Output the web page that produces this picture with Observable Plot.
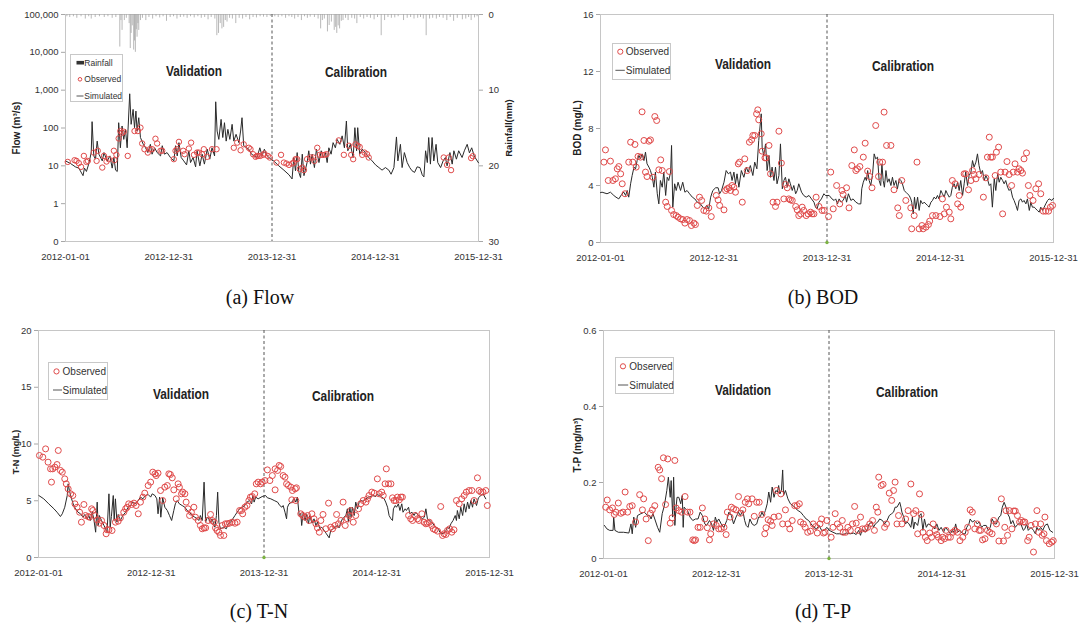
<!DOCTYPE html>
<html><head><meta charset="utf-8">
<script src="https://cdn.jsdelivr.net/npm/d3@7"></script>
<script src="https://cdn.jsdelivr.net/npm/@observablehq/plot@0.6"></script>
<style>
body{margin:0;background:#fff;}
#root{position:relative;width:1079px;height:624px;overflow:hidden;background:#fff;font-family:"Liberation Sans",Arial,sans-serif;color:#333;}
.note{position:absolute;transform:translate(-50%,-50%) scaleX(0.85);font-weight:bold;font-size:14px;color:#222;white-space:nowrap;}
.ytitle{position:absolute;transform:translate(-50%,-50%) rotate(-90deg);font-weight:bold;color:#222;white-space:nowrap;}
.cap{position:absolute;transform:translate(-50%,-50%);font-family:"Liberation Serif","Times New Roman",serif;font-size:20px;color:#111;white-space:nowrap;}
</style></head><body><div id="root"></div><script>
// ---------------- DATA ----------------
const xTickLabels = ["2012-01-01","2012-12-31","2013-12-31","2014-12-31","2015-12-31"];
const splitDate = "2013-12-31";
const periodLabels = ["Validation","Calibration"];
const captions = ["(a) Flow","(b) BOD","(c) T-N","(d) T-P"];
const flowTicks = [0.1,1,10,100,1000,10000,100000];
const flowTickLabels = ["0","1","10","100","1,000","10,000","100,000"];
const rainTicks = [0,10,20,30];
const bodTicks = [0,4,8,12,16];
const tnTicks = [0,5,10,15,20];
const tpTicks = [0,0.2,0.4,0.6];
// [day since 2012-01-01, value]
const flowSim = [[0,13.5],[18,11.5],[35,9.4],[47,8.7],[62,5.5],[67,8.7],[74,7.1],[82,11.1],[91,22.4],[94,147],[100,18.3],[106,15],[112,45],[118,20.3],[130,13.5],[136,22.4],[147,13.5],[157,18.3],[165,8.7],[171,16.6],[177,7.7],[183,7.1],[188,138],[194,30],[200,113],[206,50],[212,92],[218,30],[227,802],[232,125],[239,310],[244,102],[249,280],[253,83],[259,187],[265,56],[275,37],[283,30],[291,22.4],[300,37],[306,20.3],[315,30],[324,22.4],[336,18.3],[342,34],[350,20.3],[359,22.4],[371,16.6],[383,13.5],[389,34],[395,18.3],[401,41],[409,16.6],[418,13.5],[428,10.6],[436,25],[442,12.2],[451,16.6],[460,9.4],[465,25],[475,10],[483,20.3],[491,11.1],[501,27.5],[510,15],[518,30],[527,18.3],[531,493],[536,83],[542,50],[550,169],[556,56],[562,138],[568,45],[574,92],[581,50],[589,125],[595,45],[603,68],[613,41],[619,83],[624,187],[630,34],[640,30],[648,27.5],[656,21],[666,18.3],[677,16.6],[687,30],[695,18.3],[703,27.5],[713,18.3],[730,14.1],[736,13.5],[754,10],[772,7.7],[790,5.8],[801,4.5],[807,16.6],[813,7.4],[819,22.4],[825,6.7],[831,4.9],[837,20.3],[843,5.5],[854,12.2],[860,25],[866,11.1],[872,20.3],[880,9.0],[887,27.5],[896,12.2],[904,25],[911,16.6],[919,22.4],[925,12.2],[931,30],[939,20.3],[946,41],[954,30],[960,50],[970,37],[978,62],[986,30],[993,153],[998,25],[1007,37],[1017,16.6],[1023,102],[1029,25],[1033,102],[1040,20.3],[1049,27.5],[1060,22.4],[1072,16.6],[1084,13.5],[1096,10.6],[1108,9.0],[1119,7.7],[1131,9.0],[1143,7.7],[1151,6.0],[1161,9.0],[1170,58],[1175,13.5],[1184,37],[1190,9.0],[1198,22.4],[1208,12.2],[1217,9.0],[1225,7.4],[1234,6.7],[1243,9.4],[1253,9.0],[1261,5.8],[1267,5.1],[1273,25],[1279,12.2],[1284,56],[1290,11.1],[1296,56],[1302,13.5],[1310,37],[1316,12.2],[1326,9.0],[1335,13.5],[1343,16.6],[1349,10],[1359,22.4],[1367,11.1],[1373,25],[1382,15],[1390,25],[1402,16.6],[1410,25],[1420,37],[1428,22],[1436,30],[1445,18],[1460,12]];
const flowObs = [[8,12.7],[32,14.1],[39,13.5],[47,11.8],[55,9.4],[65,18.3],[74,12.7],[79,13.5],[100,22.4],[110,13.5],[114,25],[130,9],[136,18.3],[145,13],[153,15],[171,25],[173,14.1],[180,19.5],[188,53],[194,83],[200,75],[206,80],[220,18.3],[244,83],[256,83],[265,102],[271,39],[279,27.5],[291,22.4],[298,27.5],[306,27.5],[318,52],[324,39],[336,25],[342,25],[383,15],[389,25],[395,27.5],[401,43],[416,25],[421,20.3],[436,28.6],[444,41],[454,19.5],[465,22.4],[471,22.4],[483,20.3],[489,27.5],[501,17.3],[518,27.5],[534,27.5],[595,30],[607,41],[619,25.8],[630,37],[648,30],[654,27.5],[663,20.3],[672,17.3],[677,18.3],[683,18.3],[689,18.3],[699,19.5],[703,21],[715,18.3],[722,16.6],[746,12.2],[762,19.5],[772,12.2],[781,11.5],[790,10.6],[801,11.5],[807,12.2],[813,15],[819,15],[828,8.2],[837,9],[843,7.7],[854,15],[866,16.6],[876,16.6],[880,13.5],[890,30],[899,19.5],[907,19.5],[916,19.5],[923,20.3],[966,47],[984,19.5],[1002,34],[1010,19.5],[1017,15],[1025,37],[1033,34],[1040,31.6],[1049,19.5],[1057,22.4],[1066,20.3],[1072,16.6],[1337,16.6],[1349,10.6],[1355,16.6],[1363,7.7],[1434,16],[1440,18]];
const rainfall = [[5,0.3],[15,0.4],[28,0.3],[40,0.5],[55,0.3],[70,0.6],[82,0.3],[91,0.6],[105,0.4],[120,0.3],[137,0.4],[150,0.3],[165,0.5],[178,0.4],[192,4.3],[196,0.8],[200,2.1],[208,0.8],[215,0.5],[225,1.2],[229,4.5],[232,2.5],[236,1.5],[241,4.7],[244,3.5],[247,5.0],[250,2.0],[253,3.0],[256,1.2],[259,2.1],[265,0.8],[272,0.5],[284,0.8],[295,0.4],[308,0.6],[320,0.3],[333,0.45],[345,0.3],[357,0.9],[370,0.4],[382,0.3],[394,0.6],[406,0.4],[418,0.35],[430,0.5],[442,0.3],[455,0.45],[468,0.3],[480,0.5],[492,0.4],[504,0.7],[515,0.4],[528,0.6],[535,2.8],[541,2.5],[547,1.2],[553,1.9],[559,1.7],[565,0.8],[571,1.0],[580,0.5],[590,0.6],[602,1.2],[614,0.5],[626,0.6],[638,0.4],[651,0.7],[663,0.4],[675,0.45],[688,0.3],[700,0.35],[712,0.4],[724,0.26],[740,0.3],[752,0.4],[765,0.3],[778,0.5],[790,0.3],[800,0.4],[810,0.6],[822,0.4],[834,0.8],[845,0.3],[855,0.5],[865,0.35],[880,0.4],[893,0.6],[902,1.9],[908,0.8],[915,0.6],[926,2.3],[932,1.45],[940,1.0],[950,2.1],[955,1.7],[959,2.5],[964,1.5],[969,1.9],[975,0.9],[981,0.8],[990,0.5],[999,0.8],[1012,0.5],[1022,0.6],[1030,1.2],[1042,0.4],[1054,0.6],[1066,0.4],[1078,0.5],[1091,0.7],[1103,0.4],[1116,2.8],[1128,0.8],[1140,0.4],[1152,0.5],[1164,0.45],[1176,0.3],[1195,0.8],[1208,0.5],[1220,0.4],[1232,0.6],[1245,0.5],[1255,0.4],[1265,0.6],[1275,2.8],[1287,0.6],[1298,0.5],[1311,0.6],[1322,0.4],[1335,0.5],[1348,0.8],[1360,0.4],[1372,0.9],[1385,0.5],[1403,0.7],[1415,0.6],[1425,0.4],[1434,0.8],[1446,0.45],[1455,0.3]];
const bodSim = [[0,3.5],[5,3.53],[21,3.42],[32,3.53],[43,3.30],[50,3.18],[59,3.06],[68,3.37],[75,3.53],[81,3.30],[86,3.65],[91,3.18],[97,4.12],[102,4.70],[108,5.29],[113,5.17],[118,5.75],[124,6.11],[129,5.87],[134,6.22],[140,5.75],[145,6.34],[150,5.52],[156,5.29],[161,5.05],[167,4.58],[172,3.88],[177,4.94],[183,3.42],[188,2.71],[193,4.35],[199,3.88],[204,4.94],[210,3.30],[215,4.58],[220,4.35],[226,4.94],[229,6.81],[233,2.48],[239,4.12],[244,3.65],[250,4.23],[258,3.65],[265,4.23],[272,3.53],[279,3.65],[287,3.42],[296,3.18],[304,3.06],[312,2.83],[322,2.71],[330,2.48],[336,2.36],[342,2.60],[349,2.36],[355,3.18],[362,3.65],[371,3.84],[379,3.84],[384,3.42],[390,3.65],[398,4.23],[405,5.05],[412,4.82],[419,4.94],[424,4.35],[430,4.94],[435,4.12],[440,4.82],[446,3.88],[454,5.05],[462,4.58],[470,5.29],[476,4.94],[483,5.40],[491,4.70],[497,5.64],[504,5.17],[510,7.16],[518,9.03],[521,6.69],[526,6.11],[532,6.92],[537,5.05],[543,6.11],[548,4.58],[553,5.29],[559,4.35],[564,5.29],[569,4.12],[575,4.70],[580,6.92],[586,3.77],[591,4.35],[596,4.58],[602,3.88],[607,4.47],[612,4.12],[618,3.65],[623,4.0],[629,3.42],[634,3.65],[639,4.12],[648,3.53],[655,3.30],[663,3.18],[672,3.30],[680,3.06],[688,2.83],[693,2.48],[698,2.36],[704,2.83],[712,3.06],[720,3.42],[725,3.30],[737,3.30],[746,3.06],[753,2.95],[758,3.06],[764,2.71],[769,3.06],[775,2.83],[782,2.95],[789,3.30],[793,2.83],[799,3.42],[807,2.95],[814,3.06],[823,2.83],[832,2.71],[839,2.71],[842,3.77],[847,4.23],[853,4.58],[857,4.35],[861,5.05],[866,4.35],[871,4.0],[877,4.82],[882,6.22],[887,5.87],[893,5.99],[898,4.35],[903,4.0],[907,5.52],[911,4.35],[915,3.88],[920,5.05],[925,4.23],[930,4.47],[936,4.0],[941,4.58],[946,4.0],[952,4.35],[957,3.77],[963,4.47],[968,4.35],[973,4.12],[979,3.65],[984,3.53],[989,3.42],[995,3.30],[1000,3.06],[1003,2.83],[1008,2.01],[1012,3.18],[1016,2.36],[1022,3.18],[1027,2.25],[1032,2.95],[1038,2.71],[1043,2.83],[1049,2.71],[1054,2.60],[1059,2.48],[1065,2.83],[1070,2.95],[1075,3.18],[1081,3.06],[1086,3.30],[1091,3.06],[1097,3.65],[1102,3.42],[1108,3.18],[1113,3.65],[1118,3.42],[1124,3.18],[1129,3.30],[1134,3.88],[1140,4.12],[1145,3.77],[1151,4.23],[1156,3.65],[1161,4.35],[1167,3.30],[1172,4.12],[1177,4.94],[1183,4.0],[1188,4.70],[1194,4.94],[1199,5.75],[1204,5.29],[1210,5.64],[1215,6.22],[1220,5.40],[1226,4.82],[1231,5.05],[1237,4.35],[1242,4.70],[1247,4.47],[1253,4.0],[1258,4.12],[1263,2.48],[1269,4.47],[1274,3.65],[1280,4.82],[1285,4.23],[1290,4.58],[1296,4.35],[1301,4.12],[1306,4.35],[1312,3.88],[1317,3.65],[1322,3.77],[1328,3.18],[1333,2.95],[1339,2.60],[1344,2.25],[1349,2.95],[1355,3.06],[1360,2.83],[1365,2.95],[1371,2.71],[1376,3.06],[1382,2.25],[1387,2.83],[1392,2.48],[1398,2.48],[1403,2.36],[1408,2.25],[1414,2.13],[1419,2.48],[1425,2.25],[1430,2.48],[1435,2.71],[1441,2.95],[1446,3.06],[1455,2.95],[1460,3.1]];
const bodObs = [[11,5.64],[16,6.50],[25,4.35],[32,5.71],[40,4.35],[48,4.47],[54,5.17],[59,5.33],[65,4.82],[70,4.12],[79,3.42],[91,5.64],[97,7.04],[104,5.64],[111,6.88],[115,5.29],[121,6.04],[129,5.99],[134,9.17],[140,7.16],[145,4.94],[150,4.63],[156,7.11],[161,7.20],[169,4.58],[175,8.84],[181,8.56],[188,5.10],[194,5.80],[199,5.05],[210,2.83],[215,2.53],[222,4.98],[229,2.25],[236,1.96],[244,1.89],[250,1.78],[258,1.66],[265,1.61],[272,1.36],[279,1.61],[287,1.54],[293,1.19],[301,1.36],[306,1.26],[312,2.60],[319,3.18],[326,2.95],[333,2.25],[341,2.20],[349,2.43],[357,1.82],[373,3.30],[379,2.99],[384,2.60],[398,2.29],[403,3.65],[408,3.77],[414,3.84],[419,3.65],[424,4.0],[430,3.88],[435,3.53],[444,5.52],[448,5.64],[457,2.83],[465,5.87],[473,5.05],[480,7.04],[487,7.20],[491,7.51],[497,7.51],[503,9.03],[507,9.31],[510,8.61],[518,7.63],[521,6.41],[530,5.94],[534,5.94],[543,6.81],[548,4.82],[556,2.83],[564,2.53],[569,2.83],[575,7.81],[583,5.57],[591,3.06],[596,4.07],[602,3.84],[607,3.06],[612,2.99],[618,2.95],[629,2.53],[634,2.29],[639,1.89],[645,2.01],[650,2.48],[655,2.25],[663,1.89],[669,2.01],[677,2.13],[682,2.01],[688,2.01],[695,3.18],[704,2.53],[714,2.25],[721,2.25],[735,1.82],[742,4.94],[750,2.36],[761,4.0],[771,2.71],[778,3.65],[782,3.37],[793,3.84],[801,2.43],[810,5.40],[818,6.50],[823,5.05],[828,5.17],[836,5.33],[847,5.99],[853,6.97],[861,5.01],[868,4.63],[875,3.84],[887,8.21],[896,4.63],[900,5.64],[909,5.64],[914,9.15],[922,6.81],[936,6.81],[946,3.70],[958,2.43],[963,1.89],[971,4.35],[984,2.95],[1000,2.43],[1003,0.96],[1011,1.89],[1020,5.64],[1027,0.96],[1036,1.19],[1040,0.96],[1049,1.08],[1057,1.26],[1061,1.50],[1070,1.89],[1081,1.89],[1094,1.82],[1102,3.06],[1108,2.01],[1115,2.48],[1124,2.13],[1129,1.66],[1134,4.35],[1143,4.12],[1151,2.71],[1156,3.30],[1161,2.48],[1172,4.82],[1177,4.82],[1186,3.70],[1194,4.35],[1199,5.05],[1204,4.77],[1210,4.47],[1220,4.77],[1234,3.18],[1242,4.54],[1247,5.99],[1253,7.39],[1258,5.99],[1263,5.99],[1272,4.70],[1276,6.34],[1283,6.69],[1290,4.94],[1296,2.01],[1304,4.94],[1310,5.68],[1317,4.77],[1325,4.0],[1330,4.94],[1336,5.52],[1344,4.94],[1349,5.17],[1355,5.05],[1360,4.87],[1365,5.87],[1373,6.29],[1379,4.0],[1384,3.30],[1394,2.95],[1403,3.77],[1412,4.12],[1419,3.42],[1427,2.20],[1435,2.20],[1444,2.20],[1450,2.48],[1457,2.6]];
const tnSim = [[1,5.46],[17,5.17],[33,4.73],[50,4.29],[60,3.99],[71,3.61],[77,3.85],[85,4.43],[93,5.46],[96,6.49],[100,5.90],[107,5.17],[114,4.58],[120,4.29],[128,3.99],[136,3.85],[144,3.55],[150,3.79],[158,3.41],[163,3.70],[168,3.26],[174,3.99],[179,3.41],[185,2.23],[190,4.88],[193,2.82],[197,3.70],[204,3.26],[212,2.82],[217,2.53],[222,2.23],[228,5.61],[232,2.67],[236,3.61],[242,5.46],[245,3.26],[249,5.17],[254,3.11],[258,3.79],[265,3.26],[273,3.70],[282,3.99],[290,4.43],[298,4.58],[305,4.88],[314,4.73],[323,5.02],[330,5.32],[338,5.17],[346,5.46],[355,5.55],[363,5.32],[368,5.61],[377,5.46],[383,5.17],[387,3.85],[392,5.32],[396,3.55],[402,5.26],[409,4.43],[417,4.14],[424,3.70],[431,3.26],[438,4.14],[443,4.73],[449,5.02],[456,4.73],[465,4.58],[474,4.43],[481,4.14],[489,3.99],[497,3.70],[506,3.55],[514,3.41],[519,3.26],[524,3.70],[530,3.26],[536,6.64],[541,3.11],[546,3.55],[551,3.41],[557,3.11],[562,3.41],[571,2.67],[576,3.70],[580,5.76],[584,3.11],[589,2.53],[595,2.61],[600,2.67],[608,2.53],[614,2.97],[622,3.11],[629,3.41],[636,3.70],[643,3.99],[651,4.29],[659,4.43],[668,4.58],[675,4.88],[683,5.02],[690,4.73],[694,5.46],[698,4.88],[703,5.32],[711,5.17],[724,5.37],[735,5.46],[741,5.26],[752,5.17],[763,5.02],[774,4.88],[781,4.58],[788,4.43],[792,4.58],[798,3.99],[803,3.41],[806,4.43],[811,4.73],[820,4.88],[828,5.17],[833,4.88],[838,5.32],[844,3.70],[849,3.91],[852,2.82],[857,3.99],[863,3.26],[868,3.85],[874,2.97],[878,3.70],[885,3.03],[892,3.41],[898,2.82],[903,3.11],[911,2.53],[917,2.67],[925,2.38],[932,2.09],[941,1.73],[946,2.38],[954,2.53],[960,2.67],[968,2.82],[973,2.61],[979,3.11],[984,3.41],[989,3.55],[995,3.70],[1000,4.29],[1003,3.11],[1008,4.43],[1012,3.55],[1016,4.43],[1022,3.70],[1027,4.88],[1033,4.29],[1038,4.88],[1043,5.02],[1051,4.96],[1060,5.17],[1068,5.32],[1076,5.37],[1083,5.46],[1092,5.37],[1097,5.55],[1103,5.46],[1111,5.32],[1119,5.17],[1124,4.88],[1130,4.43],[1135,3.70],[1141,3.41],[1146,3.26],[1149,4.29],[1155,4.58],[1159,4.43],[1165,4.73],[1170,4.14],[1176,4.73],[1180,3.99],[1187,4.29],[1191,4.14],[1198,4.43],[1202,3.85],[1209,3.99],[1216,3.70],[1221,3.99],[1230,3.70],[1238,3.55],[1243,3.41],[1249,3.55],[1254,4.29],[1259,3.41],[1267,3.26],[1273,3.11],[1281,2.82],[1286,2.67],[1295,2.53],[1299,2.23],[1306,2.09],[1313,2.14],[1319,2.38],[1324,2.67],[1329,2.53],[1335,2.97],[1342,3.26],[1349,3.70],[1353,3.26],[1356,4.14],[1362,3.41],[1367,4.43],[1373,3.70],[1378,4.73],[1383,3.99],[1389,4.88],[1394,4.29],[1400,5.02],[1405,4.43],[1410,5.17],[1418,4.58],[1424,5.26],[1432,5.46],[1439,5.61],[1448,5.17]];
const tnObs = [[3,8.99],[14,8.84],[23,9.57],[31,8.40],[39,7.81],[42,6.64],[46,7.81],[53,7.96],[60,8.19],[64,9.43],[71,7.67],[77,7.52],[85,6.93],[90,6.49],[96,6.05],[104,5.61],[111,5.46],[118,4.73],[125,4.43],[133,3.99],[139,3.11],[147,4.67],[152,3.70],[161,3.61],[165,3.55],[172,4.29],[176,4.14],[182,3.70],[190,3.32],[197,3.02],[204,3.26],[212,2.82],[219,2.09],[222,2.44],[228,2.44],[238,2.38],[249,3.11],[258,3.20],[265,3.49],[276,3.99],[282,4.29],[287,4.43],[292,4.73],[301,4.67],[309,4.79],[316,4.58],[323,3.85],[330,4.88],[338,5.32],[344,5.67],[355,6.34],[363,6.64],[370,7.52],[377,7.37],[381,7.22],[387,7.43],[395,5.90],[402,5.02],[409,6.20],[417,6.34],[422,7.37],[427,7.31],[433,7.02],[438,5.96],[446,5.17],[452,6.49],[456,6.20],[463,5.61],[467,5.76],[474,5.61],[478,4.88],[484,4.29],[489,3.70],[495,3.99],[503,4.43],[508,3.55],[517,3.26],[524,2.82],[530,2.53],[536,2.61],[541,2.61],[549,3.26],[557,3.79],[562,3.26],[569,3.11],[573,2.61],[578,2.38],[584,2.23],[589,1.94],[595,2.82],[600,1.94],[605,2.97],[611,2.97],[618,3.02],[627,3.11],[636,3.02],[643,3.11],[651,4.14],[657,4.14],[661,3.85],[668,4.43],[675,4.58],[681,5.02],[686,5.32],[692,5.37],[700,5.61],[705,6.49],[711,6.64],[719,6.49],[724,6.64],[733,6.78],[741,7.72],[749,6.78],[757,7.22],[766,7.81],[766,5.96],[774,7.67],[779,8.11],[784,8.02],[792,7.22],[798,7.08],[803,6.49],[809,6.34],[817,6.20],[820,5.08],[822,5.90],[831,6.05],[833,5.02],[835,6.14],[849,3.85],[855,3.70],[863,3.55],[871,3.70],[876,3.26],[885,3.85],[892,3.41],[898,2.97],[903,2.61],[909,2.23],[914,3.26],[921,3.79],[930,2.53],[939,4.79],[946,2.67],[952,2.53],[960,2.82],[965,3.79],[971,2.97],[979,3.26],[986,4.88],[993,2.82],[1000,3.41],[1006,3.70],[1011,4.14],[1019,3.11],[1027,3.70],[1036,4.29],[1043,4.73],[1051,5.02],[1060,4.88],[1065,5.17],[1070,5.46],[1079,5.76],[1087,5.67],[1097,6.93],[1103,5.61],[1111,5.76],[1116,5.46],[1122,6.49],[1126,7.81],[1133,6.49],[1141,6.49],[1146,5.26],[1151,5.02],[1157,5.02],[1162,5.32],[1168,5.08],[1173,5.32],[1178,5.32],[1198,3.70],[1205,3.41],[1211,3.26],[1219,3.70],[1227,3.41],[1232,3.26],[1241,3.85],[1248,3.11],[1254,2.97],[1259,3.02],[1265,3.11],[1273,2.82],[1278,2.53],[1284,2.44],[1292,2.32],[1302,4.49],[1308,1.94],[1313,2.09],[1319,2.03],[1324,2.38],[1331,2.53],[1338,2.23],[1345,2.44],[1353,5.02],[1362,4.73],[1370,5.17],[1378,5.46],[1385,5.76],[1394,5.90],[1403,5.90],[1410,5.02],[1421,7.02],[1426,5.90],[1432,5.76],[1439,5.76],[1448,5.90],[1453,4.58]];
const tpSim = [[3,0.087],[11,0.078],[20,0.074],[31,0.074],[33,0.109],[37,0.074],[48,0.069],[65,0.069],[82,0.067],[89,0.091],[93,0.065],[98,0.109],[104,0.082],[110,0.113],[121,0.118],[132,0.122],[143,0.113],[149,0.113],[154,0.104],[160,0.118],[166,0.104],[175,0.082],[182,0.069],[190,0.118],[197,0.139],[205,0.179],[210,0.214],[216,0.161],[219,0.205],[224,0.109],[227,0.214],[231,0.087],[235,0.135],[238,0.161],[244,0.161],[250,0.144],[255,0.166],[258,0.082],[261,0.135],[266,0.131],[272,0.126],[280,0.109],[289,0.100],[298,0.104],[306,0.104],[313,0.122],[320,0.113],[328,0.091],[334,0.087],[343,0.100],[350,0.091],[356,0.074],[362,0.109],[367,0.096],[373,0.104],[381,0.091],[390,0.082],[399,0.100],[406,0.122],[414,0.113],[421,0.091],[429,0.109],[437,0.122],[443,0.113],[451,0.126],[457,0.100],[462,0.087],[468,0.082],[474,0.104],[481,0.091],[488,0.087],[496,0.091],[502,0.109],[507,0.109],[513,0.122],[518,0.113],[524,0.126],[530,0.144],[535,0.175],[541,0.148],[546,0.188],[552,0.161],[558,0.179],[563,0.175],[567,0.192],[571,0.170],[576,0.179],[580,0.233],[583,0.166],[589,0.179],[597,0.157],[605,0.144],[614,0.139],[623,0.131],[630,0.126],[638,0.122],[647,0.113],[656,0.104],[664,0.100],[672,0.091],[681,0.082],[690,0.078],[698,0.087],[706,0.074],[715,0.074],[723,0.082],[731,0.074],[743,0.069],[754,0.065],[765,0.065],[776,0.063],[787,0.067],[799,0.065],[810,0.067],[818,0.063],[826,0.074],[832,0.061],[838,0.078],[847,0.069],[855,0.078],[860,0.091],[869,0.096],[874,0.082],[880,0.091],[888,0.096],[894,0.104],[903,0.100],[910,0.091],[918,0.100],[925,0.113],[933,0.118],[939,0.122],[944,0.135],[950,0.135],[959,0.148],[963,0.135],[966,0.122],[972,0.109],[978,0.091],[983,0.096],[989,0.091],[995,0.082],[1000,0.109],[1004,0.078],[1008,0.096],[1017,0.087],[1023,0.113],[1028,0.118],[1034,0.074],[1039,0.104],[1045,0.082],[1051,0.091],[1060,0.087],[1067,0.082],[1073,0.078],[1079,0.091],[1086,0.074],[1093,0.082],[1101,0.069],[1107,0.082],[1115,0.074],[1123,0.065],[1129,0.074],[1134,0.069],[1140,0.091],[1146,0.069],[1154,0.074],[1163,0.065],[1171,0.065],[1176,0.082],[1183,0.091],[1187,0.104],[1194,0.096],[1202,0.100],[1210,0.091],[1216,0.096],[1224,0.082],[1230,0.087],[1239,0.087],[1246,0.074],[1252,0.082],[1258,0.104],[1266,0.091],[1272,0.091],[1280,0.109],[1286,0.113],[1291,0.135],[1297,0.148],[1303,0.135],[1308,0.118],[1314,0.109],[1319,0.091],[1325,0.100],[1333,0.082],[1342,0.091],[1351,0.091],[1359,0.074],[1364,0.078],[1370,0.091],[1375,0.074],[1384,0.082],[1392,0.074],[1398,0.065],[1403,0.082],[1409,0.074],[1415,0.082],[1422,0.074],[1429,0.087],[1437,0.091],[1445,0.074],[1454,0.069]];
const tpObs = [[7,0.135],[12,0.154],[20,0.128],[29,0.133],[35,0.116],[40,0.122],[48,0.146],[56,0.119],[63,0.122],[70,0.175],[78,0.122],[85,0.137],[93,0.139],[104,0.096],[117,0.168],[126,0.128],[130,0.157],[138,0.104],[145,0.047],[152,0.119],[158,0.128],[166,0.139],[177,0.240],[182,0.233],[188,0.210],[194,0.265],[201,0.142],[208,0.262],[216,0.093],[222,0.107],[231,0.258],[235,0.133],[244,0.126],[253,0.122],[264,0.163],[272,0.122],[280,0.122],[289,0.049],[294,0.047],[298,0.049],[306,0.082],[313,0.082],[320,0.133],[328,0.104],[336,0.081],[343,0.049],[347,0.065],[356,0.091],[365,0.087],[373,0.078],[381,0.078],[390,0.082],[397,0.063],[401,0.122],[410,0.109],[414,0.135],[421,0.131],[429,0.128],[437,0.163],[443,0.119],[451,0.128],[459,0.148],[466,0.157],[470,0.144],[481,0.157],[488,0.111],[496,0.148],[504,0.148],[513,0.116],[522,0.065],[526,0.081],[533,0.102],[541,0.098],[546,0.087],[552,0.109],[560,0.179],[567,0.111],[574,0.170],[580,0.091],[589,0.128],[597,0.091],[603,0.078],[611,0.100],[619,0.139],[627,0.139],[634,0.144],[638,0.096],[647,0.091],[653,0.082],[661,0.069],[670,0.072],[679,0.091],[687,0.084],[692,0.067],[701,0.091],[706,0.104],[712,0.067],[717,0.069],[723,0.100],[737,0.056],[743,0.082],[750,0.118],[757,0.091],[765,0.082],[773,0.100],[776,0.069],[784,0.069],[791,0.082],[799,0.074],[806,0.091],[813,0.137],[818,0.093],[824,0.074],[832,0.109],[838,0.078],[847,0.078],[855,0.082],[862,0.091],[871,0.100],[877,0.074],[883,0.135],[888,0.122],[891,0.214],[899,0.192],[905,0.195],[910,0.082],[916,0.091],[925,0.172],[933,0.153],[939,0.179],[944,0.201],[950,0.091],[955,0.113],[966,0.091],[978,0.104],[986,0.126],[995,0.196],[1004,0.118],[1011,0.126],[1017,0.065],[1023,0.170],[1028,0.116],[1034,0.069],[1042,0.056],[1048,0.047],[1056,0.067],[1062,0.056],[1067,0.091],[1073,0.074],[1079,0.063],[1084,0.056],[1093,0.047],[1098,0.056],[1104,0.052],[1109,0.074],[1116,0.056],[1123,0.056],[1131,0.069],[1138,0.074],[1146,0.069],[1154,0.047],[1163,0.056],[1171,0.069],[1179,0.082],[1187,0.128],[1194,0.122],[1202,0.078],[1210,0.091],[1216,0.074],[1221,0.074],[1227,0.049],[1235,0.052],[1243,0.074],[1250,0.069],[1258,0.065],[1263,0.100],[1272,0.091],[1280,0.046],[1288,0.157],[1295,0.046],[1299,0.082],[1303,0.126],[1308,0.061],[1314,0.126],[1322,0.078],[1328,0.125],[1333,0.125],[1340,0.113],[1347,0.096],[1353,0.100],[1359,0.096],[1364,0.096],[1373,0.047],[1378,0.056],[1384,0.087],[1392,0.017],[1398,0.091],[1403,0.126],[1409,0.069],[1415,0.091],[1420,0.061],[1426,0.065],[1429,0.109],[1434,0.047],[1443,0.039],[1451,0.043],[1456,0.047]];

// ---------------- RENDER ----------------
const root = document.getElementById("root");
const T0 = Date.UTC(2012, 0, 1);
const toDate = d => new Date(T0 + d * 864e5);
const xTicks = xTickLabels.map(s => new Date(s + "T00:00:00Z"));
const xDomain = [xTicks[0], xTicks[xTicks.length - 1]];
const split = new Date(splitDate + "T00:00:00Z");
const fmtDate = d3.utcFormat("%Y-%m-%d");
const rows = arr => arr.map(([d, v]) => ({date: toDate(d), v}));
const FONT = "'Liberation Sans', Arial, sans-serif";

function place(el, left, top) {
  const div = document.createElement("div");
  div.style.position = "absolute";
  div.style.left = left + "px";
  div.style.top = top + "px";
  div.appendChild(el);
  root.appendChild(div);
}

function panel(c) {
  const marks = [
    Plot.frame({stroke: "#c6c6c6"}),
    Plot.axisX({ticks: xTicks, tickFormat: fmtDate, tickSize: 0, tickPadding: 12, fontSize: 9.5, label: null}),
    Plot.axisY({ticks: c.yTicks, tickFormat: c.yFormat, tickSize: 4, tickPadding: 3, stroke: "#a8a8a8", fontSize: 9.5, label: null}),
    Plot.ruleX([split], {stroke: "#555", strokeWidth: 1, strokeDasharray: "3,2.5"})
  ];
  if (c.greenDot) marks.push(Plot.dot([{date: split, v: 0}], {x: "date", y: "v", r: 1.7, fill: "#7cb342"}));
  marks.push(Plot.line(rows(c.sim), {x: "date", y: "v", stroke: "#2a2a2a", strokeWidth: 1}));
  marks.push(Plot.dot(rows(c.obs), {x: "date", y: "v", r: c.r, stroke: "#e04a4a", strokeWidth: 1, fill: "none"}));
  const p = Plot.plot({
    width: c.width, height: c.height,
    marginLeft: c.ml, marginRight: c.mr, marginTop: c.mt, marginBottom: c.mb,
    x: {type: "utc", domain: xDomain, label: null},
    y: Object.assign({domain: c.yDomain, label: null}, c.yType ? {type: c.yType} : {}),
    style: {fontFamily: FONT, fontSize: "9.5px", color: "#333", background: "transparent", overflow: "visible"},
    marks
  });
  place(p, c.left, c.top);
  return p;
}

// Panel (a) Flow
panel({left: 0, top: 0, width: 540, height: 270, ml: 65, mr: 62, mt: 14, mb: 29,
  yType: "log", yDomain: [0.1, 100000], yTicks: flowTicks,
  yFormat: d => flowTickLabels[flowTicks.indexOf(d)], sim: flowSim, obs: flowObs, r: 2.7, greenDot: false});
// rainfall overlay with right axis
place(Plot.plot({
  width: 540, height: 270, marginLeft: 65, marginRight: 62, marginTop: 14, marginBottom: 29,
  x: {type: "utc", domain: xDomain, axis: null},
  y: {domain: [0, 30], reverse: true, label: null},
  style: {fontFamily: FONT, fontSize: "9.5px", color: "#333", background: "transparent", overflow: "visible"},
  marks: [
    Plot.ruleX(rows(rainfall), {x: "date", y1: 0, y2: "v", stroke: "#a6a6a6", strokeWidth: 0.8}),
    Plot.axisY({anchor: "right", ticks: rainTicks, tickSize: 4, tickPadding: 6, stroke: "#a8a8a8", fontSize: 9.5, label: null})
  ]
}), 0, 0);

// Panel (b) BOD
panel({left: 540, top: 0, width: 539, height: 270, ml: 60, mr: 26, mt: 14, mb: 28,
  yDomain: [0, 16], yTicks: bodTicks, yFormat: d => String(d), sim: bodSim, obs: bodObs, r: 3, greenDot: true});
// Panel (c) T-N
panel({left: 0, top: 310, width: 540, height: 280, ml: 38, mr: 51, mt: 20, mb: 33,
  yDomain: [0, 20], yTicks: tnTicks, yFormat: d => String(d), sim: tnSim, obs: tnObs, r: 3, greenDot: true});
// Panel (d) T-P
panel({left: 540, top: 310, width: 539, height: 280, ml: 63, mr: 25, mt: 20, mb: 32,
  yDomain: [0, 0.6], yTicks: tpTicks, yFormat: d => String(d), sim: tpSim, obs: tpObs, r: 3, greenDot: true});

// ---- annotations, axis titles, captions ----
function html(cls, text, x, y, extra) {
  const d = document.createElement("div");
  d.className = cls; d.textContent = text;
  d.style.left = x + "px"; d.style.top = y + "px";
  if (extra) Object.assign(d.style, extra);
  root.appendChild(d);
}
[[194, 71, 356, 72], [743, 64, 903, 66], [181, 394, 343, 396], [743, 390, 907, 392]].forEach(([vx, vy, cx, cy]) => {
  html("note", periodLabels[0], vx, vy);
  html("note", periodLabels[1], cx, cy);
});
html("ytitle", "Flow (m³/s)", 15.5, 128, {fontSize: "10px"});
html("ytitle", "Rainfall(mm)", 508, 128, {fontSize: "9.5px"});
html("ytitle", "BOD (mg/L)", 577, 128, {fontSize: "10px"});
html("ytitle", "T-N (mg/L)", 15.5, 452, {fontSize: "9px"});
html("ytitle", "T-P (mg/m³)", 577, 445, {fontSize: "10px"});
html("cap", captions[0], 260, 297);
html("cap", captions[1], 823, 297);
html("cap", captions[2], 259, 611);
html("cap", captions[3], 823, 611);

// ---- legends ----
function legend(left, top, w, h, fs, items) {
  const svg = d3.create("svg").attr("width", w).attr("height", h)
    .style("position", "absolute").style("left", left + "px").style("top", top + "px").style("overflow", "visible");
  svg.append("rect").attr("x", 0.5).attr("y", 0.5).attr("width", w - 1).attr("height", h - 1)
    .attr("fill", "#fff").attr("stroke", "#c8c8c8");
  items.forEach(it => {
    if (it.kind === "rain") svg.append("rect").attr("x", it.x0).attr("y", it.cy - 1.8).attr("width", it.x1 - it.x0).attr("height", 3.6).attr("fill", "#333");
    if (it.kind === "obs") svg.append("circle").attr("cx", it.cx).attr("cy", it.cy).attr("r", it.r).attr("fill", "none").attr("stroke", "#e04a4a");
    if (it.kind === "sim") svg.append("line").attr("x1", it.x0).attr("x2", it.x1).attr("y1", it.cy).attr("y2", it.cy).attr("stroke", "#555");
    svg.append("text").attr("x", it.tx).attr("y", it.cy).attr("dy", "0.35em").attr("font-size", fs)
      .attr("font-family", FONT).attr("fill", "#333").text(it.label);
  });
  root.appendChild(svg.node());
}
legend(70, 54, 53, 48, 8.5, [
  {kind: "rain", label: "Rainfall", cy: 8.7, x0: 6.5, x1: 14, tx: 14.3},
  {kind: "obs", label: "Observed", cy: 25.3, cx: 10, r: 1.8, tx: 14.3},
  {kind: "sim", label: "Simulated", cy: 42, x0: 6.5, x1: 13.5, tx: 14.3}
]);
legend(612, 43, 59, 37, 10, [
  {kind: "obs", label: "Observed", cy: 8.7, cx: 8.3, r: 2.6, tx: 13.8},
  {kind: "sim", label: "Simulated", cy: 27.3, x0: 3.4, x1: 12.8, tx: 13.8}
]);
legend(48, 362, 60, 38, 10, [
  {kind: "obs", label: "Observed", cy: 9.4, cx: 8.5, r: 2.6, tx: 14.6},
  {kind: "sim", label: "Simulated", cy: 28, x0: 5, x1: 14, tx: 14.6}
]);
legend(615, 357, 59, 37, 10, [
  {kind: "obs", label: "Observed", cy: 9.3, cx: 8, r: 2.6, tx: 14.3},
  {kind: "sim", label: "Simulated", cy: 28, x0: 3, x1: 13.2, tx: 14.3}
]);
</script></body></html>
